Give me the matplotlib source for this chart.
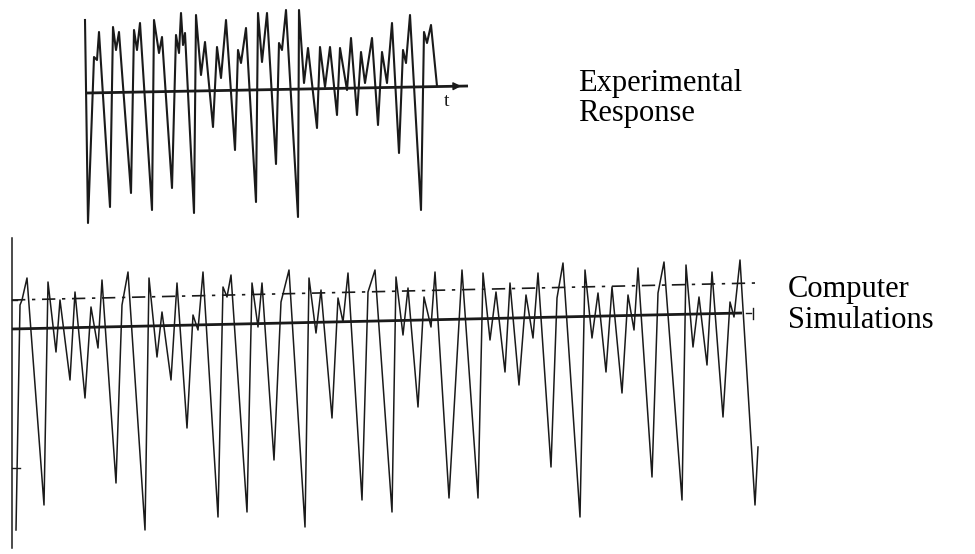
import matplotlib.pyplot as plt

# Readings (time along the chart, deflection downwards)
exp_t = [85, 88, 94, 97, 99, 110, 113, 116, 119, 131, 134, 137, 140, 152, 154, 159, 162, 172,
         176, 179, 181, 183, 185, 194, 196, 201, 205, 213, 217, 221, 226, 235, 238, 241, 246,
         256, 258, 262, 267, 276, 279, 282, 286, 298, 299, 304, 308, 317, 320, 325, 330, 337,
         340, 347, 351, 357, 361, 365, 372, 378, 382, 387, 392, 399, 403, 406, 410, 421, 424,
         427, 431, 437]
exp_y = [20, 223, 57, 60, 32, 207, 27, 50, 32, 193, 30, 50, 23, 210, 20, 53, 37, 188,
         35, 53, 13, 45, 33, 213, 15, 75, 42, 127, 47, 78, 20, 150, 50, 63, 28,
         202, 13, 62, 13, 164, 43, 50, 10, 217, 10, 83, 48, 128, 47, 87, 47, 115,
         48, 90, 38, 115, 52, 83, 38, 125, 52, 83, 23, 153, 50, 63, 15, 210, 32,
         43, 25, 86]

sim_t = [16, 20, 22, 27, 44, 48, 56, 60, 70, 75, 85, 91, 98, 102, 116, 122, 128, 145, 149,
         157, 162, 171, 177, 187, 193, 198, 203, 218, 223, 227, 231, 247, 252, 258, 262, 274,
         281, 289, 305, 309, 316, 321, 332, 338, 343, 348, 362, 368, 375, 392, 396, 403, 408,
         418, 424, 431, 435, 449, 462, 478, 483, 490, 496, 505, 510, 519, 526, 533, 538, 551,
         557, 563, 580, 585, 592, 598, 606, 612, 622, 628, 634, 638, 652, 658, 664, 682, 686,
         693, 699, 707, 712, 723, 730, 734, 740, 755, 758]
sim_y = [530, 305, 300, 278, 505, 282, 352, 300, 380, 292, 398, 307, 348, 280, 483, 305, 272, 530, 278,
         357, 312, 380, 283, 428, 315, 330, 272, 517, 287, 297, 275, 512, 283, 327, 283, 460,
         302, 270, 527, 278, 333, 290, 418, 298, 322, 273, 500, 292, 270, 512, 277, 335, 288,
         407, 297, 327, 272, 498, 270, 498, 273, 340, 292, 372, 283, 385, 295, 338, 273, 467,
         298, 263, 517, 270, 338, 293, 372, 287, 393, 295, 330, 268, 477, 293, 262, 500, 265,
         347, 297, 365, 272, 417, 302, 317, 260, 505, 447]

# reference lines (start / end)
exp_axis_t = [87, 468]
exp_axis_y = [93, 86]
sim_axis_t = [12, 742]
sim_axis_y = [329, 313]
sim_level_t = [12, 755]
sim_level_y = [300, 283]

ink = '#1a1a1a'

fig = plt.figure(figsize=(9.75, 5.54), dpi=100)
ax = fig.add_axes([0, 0, 1, 1])
ax.set_xlim(0, 975)
ax.set_ylim(554, 0)
ax.axis('off')

# top: experimental record
ax.plot(exp_axis_t, exp_axis_y, color=ink, lw=2.0, solid_capstyle='butt')
ax.annotate('', xy=(exp_axis_t[1] - 4, exp_axis_y[1]), xytext=(exp_axis_t[1] - 24, exp_axis_y[1] + 0.4),
            arrowprops=dict(arrowstyle='-|>', color=ink, lw=1.0, mutation_scale=12))
ax.plot(exp_t, exp_y, color=ink, lw=1.5, solid_joinstyle='round')
ax.text(447, 101, 't', fontsize=14, family='Liberation Serif', color=ink, ha='center', va='center')

# bottom: simulation
ax.plot([12, 12], [238, 548], color=ink, lw=1.1)
ax.plot([12, 17], [300, 300], color=ink, lw=1.0)
ax.plot([12, 20], [468, 468], color=ink, lw=1.0)
ax.plot(sim_axis_t, sim_axis_y, color=ink, lw=2.0, solid_capstyle='butt')
ax.plot([746, 751], [313, 313], color=ink, lw=1.0)
ax.plot([753, 753], [308, 319], color=ink, lw=1.0)
ax.plot(sim_level_t, sim_level_y, color=ink, lw=1.2, linestyle=(0, (8, 4, 2, 4)))
ax.plot(sim_t, sim_y, color=ink, lw=1.1, solid_joinstyle='round')

serif = ['Liberation Serif', 'DejaVu Serif']
ax.text(578, 83, 'Experimental', fontsize=22, family=serif, color='black', va='center')
ax.text(578, 114, 'Response', fontsize=22, family=serif, color='black', va='center')
ax.text(788, 290, 'Computer', fontsize=22, family=serif, color='black', va='center')
ax.text(788, 321, 'Simulations', fontsize=22, family=serif, color='black', va='center')

fig.savefig('out.png', dpi=100)
